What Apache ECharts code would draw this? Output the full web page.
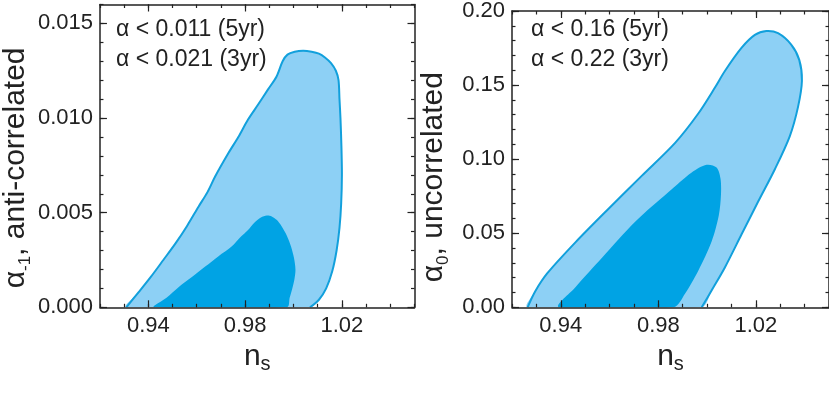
<!DOCTYPE html>
<html>
<head>
<meta charset="utf-8">
<script src="https://cdn.jsdelivr.net/npm/echarts@6/dist/echarts.min.js"></script>
<style>
  html, body { margin: 0; padding: 0; background: #fff; }
  #chart { width: 829px; height: 398px; }
</style>
</head>
<body>
<div id="chart"></div>
<script>
// n_s range and tick labels (shared by both panels)
const xRange = [0.92, 1.05]
const xLabels = [0.94, 0.98, 1.02]

// left panel: alpha_-1, anti-correlated
const yRangeA = [0, 0.016]
const yLabelsA = [0, 0.005, 0.010, 0.015]
const outerA = [
  [0.9309, 0], [0.9360, 0.0008], [0.9411, 0.00162], [0.9462, 0.0025], [0.9513, 0.00339],
  [0.9560, 0.0043], [0.9608, 0.00533], [0.9645, 0.0061], [0.9676, 0.00691], [0.9731, 0.00815],
  [0.9772, 0.0090], [0.9812, 0.00992], [0.9853, 0.0107], [0.9894, 0.0115], [0.9930, 0.0122],
  [0.9955, 0.0130], [0.9975, 0.01335], [1.0005, 0.0135], [1.0040, 0.01355], [1.0075, 0.0135],
  [1.0105, 0.0134], [1.0130, 0.0132], [1.0155, 0.0129], [1.0175, 0.0125], [1.0186, 0.0120],
  [1.0190, 0.0110], [1.0194, 0.0100], [1.0198, 0.0085], [1.0200, 0.0070], [1.0197, 0.0055],
  [1.0190, 0.0042], [1.0178, 0.0030], [1.0160, 0.0019], [1.0135, 0.0010], [1.0105, 0.0004],
  [1.0068, 0]
]
const innerA = [
  [0.9424, 0], [0.9475, 0.0005], [0.9527, 0.00109], [0.9580, 0.0016], [0.9635, 0.00215],
  [0.9690, 0.0027], [0.9744, 0.00321], [0.9780, 0.0037], [0.9812, 0.00409], [0.9840, 0.0045],
  [0.9865, 0.00475], [0.9890, 0.00485], [0.9910, 0.0048], [0.9930, 0.00462], [0.9950, 0.0043],
  [0.9972, 0.0038], [0.9990, 0.0032], [1.0002, 0.0026], [1.0008, 0.0020], [1.0004, 0.0015],
  [0.9995, 0.0010], [0.9984, 0.0005], [0.9973, 0]
]

// right panel: alpha_0, uncorrelated
const yRangeB = [0, 0.20]
const yLabelsB = [0, 0.05, 0.10, 0.15, 0.20]
const outerB = [
  [0.9264, 0], [0.9296, 0.0110], [0.9345, 0.0230], [0.9461, 0.0440], [0.9597, 0.0667],
  [0.9733, 0.0889], [0.9869, 0.1110], [0.9964, 0.1308], [1.0033, 0.1485], [1.0073, 0.1595],
  [1.0141, 0.1751], [1.0196, 0.1839], [1.0243, 0.1865], [1.0291, 0.1850], [1.0345, 0.1773],
  [1.0378, 0.1670], [1.0389, 0.1529], [1.0373, 0.1353], [1.0339, 0.1154], [1.0278, 0.0932],
  [1.0209, 0.0712], [1.0141, 0.0491], [1.0073, 0.0269], [1.0019, 0.0115], [0.9978, 0]
]
const innerB = [
  [0.9393, 0], [0.9461, 0.0137], [0.9570, 0.0336], [0.9706, 0.0579], [0.9842, 0.0778],
  [0.9937, 0.0910], [0.9998, 0.0962], [1.0039, 0.0944], [1.0055, 0.0870], [1.0057, 0.0760],
  [1.0048, 0.0620], [1.0019, 0.0446], [0.9964, 0.0247], [0.9910, 0.0093], [0.9862, 0]
]

const limitsA = ['α < 0.011 (5yr)', 'α < 0.021 (3yr)']
const limitsB = ['α < 0.16 (5yr)', 'α < 0.22 (3yr)']

const FONT = '"Liberation Sans", Arial, Helvetica, sans-serif'
const INK = '#222222'
const LIGHT = '#8dd0f5'
const DARK = '#00a3e4'
const EDGE = '#12a0dc'

// one side of a box: a minor-tick axis and a major-tick (labelled) axis on top of each other
function side(grid, pos, range, minorStep, labels, digits, showLabels, extra) {
  const minor = {
    type: 'value', gridIndex: grid, position: pos, min: range[0], max: range[1],
    interval: minorStep, z: 5,
    axisLine: { show: true, onZero: false, lineStyle: { color: INK, width: 1.5 } },
    axisTick: { show: true, inside: true, length: 3.5, lineStyle: { color: INK, width: 1.2 } },
    axisLabel: { show: false },
    splitLine: { show: false }
  }
  const major = Object.assign({
    type: 'value', gridIndex: grid, position: pos, min: range[0], max: range[1], z: 5,
    axisLine: { show: false, onZero: false },
    axisTick: { show: true, inside: true, length: 7, customValues: labels, lineStyle: { color: INK, width: 1.2 } },
    axisLabel: {
      show: showLabels, customValues: labels,
      formatter: v => v.toFixed(digits),
      fontFamily: FONT, fontSize: 22, color: INK, margin: pos === 'bottom' ? 8 : 7
    },
    splitLine: { show: false }
  }, extra || {})
  return [minor, major]
}

function yName(text, shift) {
  return {
    name: text,
    nameLocation: 'middle',
    nameGap: 60,
    nameTextStyle: {
      padding: [0, shift, 0, 0],
      rich: {
        a: { fontFamily: FONT, fontSize: 30, color: INK, lineHeight: 36 },
        s: { fontFamily: FONT, fontSize: 17, color: INK, lineHeight: 20, verticalAlign: 'bottom' }
      }
    }
  }
}

const xName = {
  name: '{n|n}{s|s}',
  nameLocation: 'middle',
  nameGap: 31,
  nameTextStyle: {
    rich: {
      n: { fontFamily: FONT, fontSize: 30, color: INK, lineHeight: 34 },
      s: { fontFamily: FONT, fontSize: 20, color: INK, lineHeight: 22, verticalAlign: 'bottom' }
    }
  }
}

function contour(points, fill, stroke, xi, yi) {
  return {
    type: 'custom',
    xAxisIndex: xi,
    yAxisIndex: yi,
    clip: true,
    z: 2,
    data: points,
    renderItem: function (params, api) {
      if (params.dataIndex !== 0) return
      const pts = points.map(p => api.coord(p))
      const children = [{ type: 'polygon', shape: { points: pts, smooth: 0.3 }, style: { fill: fill } }]
      if (stroke) {
        children.push({
          type: 'polyline', shape: { points: pts, smooth: 0.3 },
          style: { fill: null, stroke: stroke, lineWidth: 2 }
        })
      }
      return { type: 'group', children: children }
    }
  }
}

function limitText(lines, left) {
  return lines.map((t, i) => ({
    type: 'text', left: left, top: 18 + i * 30, z: 10,
    style: { text: t, fontFamily: FONT, fontSize: 23, fill: INK }
  }))
}

const chart = echarts.init(document.getElementById('chart'))
chart.setOption({
  animation: false,
  grid: [
    { left: 97, top: 4.5, width: 317.5, height: 302.8 },
    { left: 512, top: 4.5, width: 318, height: 302.8 }
  ],
  xAxis: [].concat(
    side(0, 'bottom', xRange, 0.01, xLabels, 2, true, xName),
    side(0, 'top', xRange, 0.01, xLabels, 2, false),
    side(1, 'bottom', xRange, 0.01, xLabels, 2, true, xName),
    side(1, 'top', xRange, 0.01, xLabels, 2, false)
  ),
  yAxis: [].concat(
    side(0, 'left', yRangeA, 0.001, yLabelsA, 3, true, yName('{a|α}{s|-1}{a|, anti-correlated}', 24)),
    side(0, 'right', yRangeA, 0.001, yLabelsA, 3, false),
    side(1, 'left', yRangeB, 0.01, yLabelsB, 2, true, yName('{a|α}{s|0}{a|, uncorrelated}', 36)),
    side(1, 'right', yRangeB, 0.01, yLabelsB, 2, false)
  ),
  graphic: [].concat(limitText(limitsA, 116), limitText(limitsB, 531)),
  series: [
    contour(outerA, LIGHT, EDGE, 1, 1),
    contour(innerA, DARK, null, 1, 1),
    contour(outerB, LIGHT, EDGE, 5, 5),
    contour(innerB, DARK, null, 5, 5)
  ]
})
</script>
</body>
</html>
